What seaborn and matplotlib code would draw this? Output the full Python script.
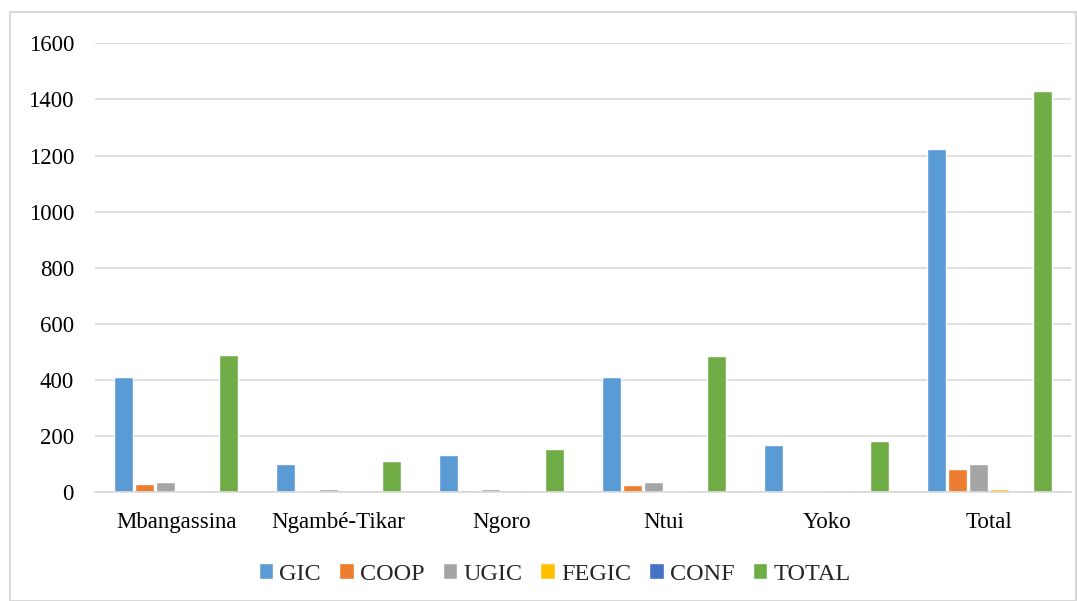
import matplotlib.pyplot as plt
import pandas as pd
import seaborn as sns
from matplotlib.patches import Rectangle

# values
communes = ["Mbangassina", "Ngambé-Tikar", "Ngoro", "Ntui", "Yoko", "Total"]
series = ["GIC", "COOP", "UGIC", "FEGIC", "CONF", "TOTAL"]
gic = [410, 100, 131, 412, 170, 1224]
coop = [31, 4, 8, 25, 6, 82]
ugic = [38, 11, 10, 36, 4, 101]
fegic = [3, 0, 0, 4, 0, 12]
conf = [0, 0, 0, 0, 0, 0]
total = [488, 112, 154, 486, 183, 1430]

colors = ["#5B9BD5", "#ED7D31", "#A5A5A5", "#FFC000", "#4472C4", "#70AD47"]

df = pd.DataFrame({"commune": communes, "GIC": gic, "COOP": coop, "UGIC": ugic,
                   "FEGIC": fegic, "CONF": conf, "TOTAL": total})
long_df = df.melt(id_vars="commune", var_name="type", value_name="count")

sns.set_style("white")
plt.rcParams["font.family"] = ["Liberation Serif", "DejaVu Serif"]

fig = plt.figure(figsize=(10.77, 6.01), dpi=100)
ax = fig.add_axes([0.088, 0.181, 0.906, 0.747])

sns.barplot(data=long_df, x="commune", y="count", hue="type", order=communes,
            hue_order=series, palette=colors, width=0.78, gap=0.1,
            saturation=1, ax=ax, legend=True)

ax.set_ylim(0, 1600)
ax.set_yticks(range(0, 1601, 200))
ax.yaxis.grid(True, color="#D9D9D9", linewidth=1.2)
ax.set_axisbelow(True)
for side in ["top", "right", "left"]:
    ax.spines[side].set_visible(False)
ax.spines["bottom"].set_color("#D9D9D9")
ax.spines["bottom"].set_linewidth(1.2)
ax.set_xlabel("")
ax.set_ylabel("")
ax.tick_params(axis="both", length=0, labelsize=16.5, colors="black")
ax.tick_params(axis="y", pad=15)
ax.tick_params(axis="x", pad=14)

handles, labels = ax.get_legend_handles_labels()
ax.legend(handles, labels, loc="center", bbox_to_anchor=(0.515, 0.045),
          bbox_transform=fig.transFigure, ncol=6, frameon=False, fontsize=17.5,
          handlelength=0.6, handleheight=0.6, handletextpad=0.25, columnspacing=0.75)

# light frame around the chart area
fig.patches.append(Rectangle((10 / 1077, 0), 1066 / 1077, 589 / 601,
                             transform=fig.transFigure, fill=False,
                             edgecolor="#D9D9D9", linewidth=1.5))

fig.savefig("out.png", dpi=100)
